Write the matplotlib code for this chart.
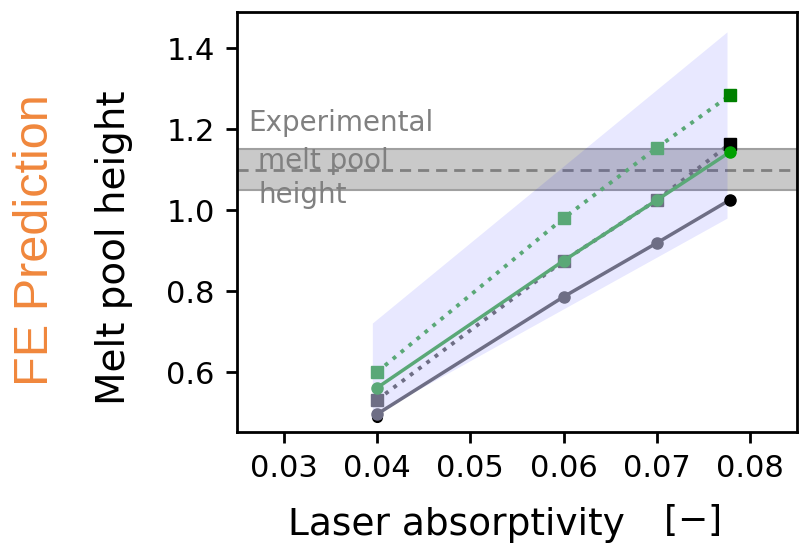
import matplotlib
matplotlib.use("Agg")
import matplotlib.pyplot as plt
import numpy as np

# Data
absorptivity = [0.04, 0.06, 0.07, 0.0778]
green_dotted_sq = [0.600, 0.980, 1.154, 1.283]
green_solid_circ = [0.561, 0.875, 1.025, 1.143]
gray_dotted_sq = [0.531, 0.875, 1.025, 1.163]
gray_solid_circ = [0.496, 0.786, 0.919, 1.025]

band_x = [0.0395, 0.0775]
band_low = [0.494, 0.980]
band_high = [0.721, 1.440]

exp_height = 1.10
exp_low, exp_high = 1.05, 1.15

xticks = [0.03, 0.04, 0.05, 0.06, 0.07, 0.08]
yticks = [0.6, 0.8, 1.0, 1.2, 1.4]

fig = plt.figure(figsize=(8.05, 5.57), dpi=100)
ax = fig.add_axes([237/805, 1-432/557, (797-237)/805, (432-12)/557])

green = "#5aa877"
slate = "#6e6e85"

# experimental band
ax.axhspan(exp_low, exp_high, facecolor="#c9c9c9", edgecolor="#a0a0a0", lw=1.5, zorder=1)
ax.axhline(exp_height, color="#808080", ls=(0, (4, 2.5)), lw=2, zorder=2)
ax.text(0.0262, 1.215, "Experimental", color="#808080", fontsize=20, va="center", ha="left", zorder=2)
ax.text(0.0273, 1.12, "melt pool", color="#808080", fontsize=20, va="center", ha="left", zorder=2)
ax.text(0.0273, 1.037, "height", color="#808080", fontsize=20, va="center", ha="left", zorder=2)

# prediction band
ax.fill_between(band_x, band_low, band_high, color="blue", alpha=0.09, lw=0, zorder=3)

x = np.array(absorptivity)
ax.plot(x[:-1], gray_solid_circ[:-1], "-", color=slate, lw=2.5, marker="o", ms=8, zorder=4)
ax.plot(x[-2:], gray_solid_circ[-2:], "-", color=slate, lw=2.5, zorder=4)
ax.plot(x[:-1], gray_dotted_sq[:-1], ":", color=slate, lw=2.8, marker="s", ms=8.5, zorder=4)
ax.plot(x[-2:], gray_dotted_sq[-2:], ":", color=slate, lw=2.8, zorder=4)
ax.plot(x[:-1], green_dotted_sq[:-1], ":", color=green, lw=2.8, marker="s", ms=8.5, zorder=5)
ax.plot(x[-2:], green_dotted_sq[-2:], ":", color=green, lw=2.8, zorder=5)
ax.plot(x[:-1], green_solid_circ[:-1], "-", color=green, lw=2.5, marker="o", ms=8, zorder=5)
ax.plot(x[-2:], green_solid_circ[-2:], "-", color=green, lw=2.5, zorder=5)

# end / reference markers
ax.plot([x[0]], [gray_solid_circ[0] - 0.006], "o", color="black", ms=7, zorder=3.9)
ax.plot([x[-1]], [gray_solid_circ[-1]], "o", color="black", ms=8, zorder=6)
ax.plot([x[-1]], [gray_dotted_sq[-1]], "s", color="black", ms=8, zorder=6)
ax.plot([x[-1]], [green_dotted_sq[-1]], "s", color="#008000", ms=8, zorder=6)
ax.plot([x[-1]], [green_solid_circ[-1]], "o", color="#00a000", ms=8, zorder=6)

ax.set_xlim(0.025, 0.085)
ax.set_ylim(0.452, 1.489)
ax.set_xticks(xticks)
ax.set_xticklabels([f"{v:.2f}" for v in xticks])
ax.set_yticks(yticks)
ax.set_yticklabels([f"{v:.1f}" for v in yticks])
ax.tick_params(labelsize=22, width=2, length=8, pad=8)
for s in ax.spines.values():
    s.set_linewidth(2)

ax.set_ylabel("Melt pool height", fontsize=28)
ax.yaxis.set_label_coords((133-237)/560, (432-248)/420)

fig.text(456/805, 1-525/557, "Laser absorptivity", fontsize=27, ha="center", va="center")
fig.text(692/805, 1-520/557, "[$-$]", fontsize=26, ha="center", va="center")

fig.text(36/805, 1-240/557, "FE Prediction", rotation=90, color="#f0873c",
         fontsize=35, family="Liberation Sans", ha="center", va="center")

fig.savefig("out.png", dpi=100)
